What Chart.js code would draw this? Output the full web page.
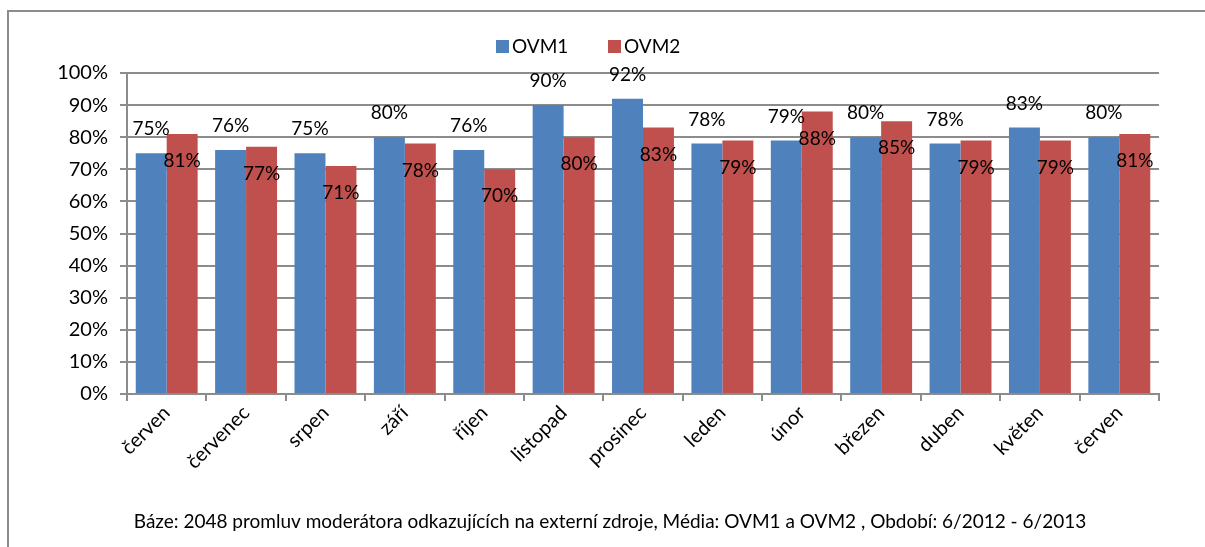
<!DOCTYPE html>
<html>
<head>
<meta charset="utf-8">
<script src="https://cdn.jsdelivr.net/npm/chart.js@4"></script>
<style>
  body { margin: 0; background: #fff; }
  #wrap { position: relative; width: 1205px; height: 547px; }
  #frame { position: absolute; left: 7px; top: 10px; right: 0; bottom: 0; border-top: 2px solid #8c8c8c; border-left: 2px solid #8c8c8c; }
  canvas { position: absolute; left: 0; top: 0; }
</style>
</head>
<body>
<div id="wrap">
  <div id="frame"></div>
  <canvas id="barChart" width="1205" height="547"></canvas>
</div>
<script>
let months = ["červen", "červenec", "srpen", "září", "říjen", "listopad", "prosinec", "leden", "únor", "březen", "duben", "květen", "červen"];
let ovm1 = [75, 76, 75, 80, 76, 90, 92, 78, 79, 80, 78, 83, 80];
let ovm2 = [81, 77, 71, 78, 70, 80, 83, 79, 88, 85, 79, 79, 81];
let seriesNames = ["OVM1", "OVM2"];
let caption = "Báze: 2048 promluv moderátora odkazujících na externí zdroje, Média: OVM1 a OVM2 , Období: 6/2012 - 6/2013";

let fontFamily = "Lato, 'Open Sans', sans-serif";

// value labels: OVM1 above the bar, OVM2 inside below the top
let valueLabels = {
    id: 'valueLabels',
    afterDatasetsDraw(chart) {
        let ctx = chart.ctx;
        ctx.save();
        ctx.font = "19px " + fontFamily;
        ctx.fillStyle = "#000";
        ctx.textAlign = "center";
        ctx.textBaseline = "middle";
        chart.data.datasets.forEach((ds, i) => {
            let meta = chart.getDatasetMeta(i);
            meta.data.forEach((bar, j) => {
                let dy = i === 0 ? -24 : 27;
                ctx.fillText(ds.data[j] + "%", bar.x, bar.y + dy);
            });
        });
        ctx.restore();
    }
};

// legend and bottom caption drawn by hand so their positions match
let legendAndCaption = {
    id: 'legendAndCaption',
    afterDraw(chart) {
        let ctx = chart.ctx;
        ctx.save();
        ctx.font = "19px " + fontFamily;
        ctx.textBaseline = "middle";
        let starts = [496, 608];
        chart.data.datasets.forEach((ds, i) => {
            let x = starts[i];
            ctx.fillStyle = ds.backgroundColor;
            ctx.fillRect(x, 40, 13, 13);
            ctx.fillStyle = "#000";
            ctx.fillText(ds.label, x + 16, 47);
        });
        ctx.textAlign = "center";
        ctx.fillText(caption, 610, 522);
        ctx.restore();
    }
};

let ctxBar = document.getElementById('barChart').getContext('2d');

let theBarChart = new Chart(ctxBar, {
    type: 'bar',
    data: {
        labels: months,
        datasets: [
            {
                label: seriesNames[0],
                backgroundColor: "#4f81bd",
                data: ovm1
            },
            {
                label: seriesNames[1],
                backgroundColor: "#c0504d",
                data: ovm2
            }
        ]
    },
    options: {
        responsive: false,
        animation: false,
        categoryPercentage: 0.78,
        barPercentage: 1.0,
        layout: {
            padding: { left: 0, right: 46, top: 73, bottom: 37 }
        },
        plugins: {
            legend: { display: false },
            tooltip: { enabled: false }
        },
        scales: {
            x: {
                grid: {
                    offset: true,
                    drawOnChartArea: false,
                    color: "#8c8c8c",
                    lineWidth: 2,
                    tickLength: 7
                },
                border: { color: "#8c8c8c", width: 2 },
                ticks: {
                    color: "#000",
                    font: { family: fontFamily, size: 20 },
                    minRotation: 45,
                    maxRotation: 45,
                    padding: 0
                },
                afterFit(scale) { scale.height = 116; }
            },
            y: {
                min: 0,
                max: 100,
                grid: {
                    color: "#8c8c8c",
                    lineWidth: 2,
                    tickLength: 7
                },
                border: { color: "#8c8c8c", width: 2 },
                ticks: {
                    stepSize: 10,
                    color: "#000",
                    font: { family: fontFamily, size: 20 },
                    padding: 12,
                    callback: v => v + "%"
                },
                afterFit(scale) { scale.width = 127; }
            }
        }
    },
    plugins: [valueLabels, legendAndCaption]
});
</script>
</body>
</html>
